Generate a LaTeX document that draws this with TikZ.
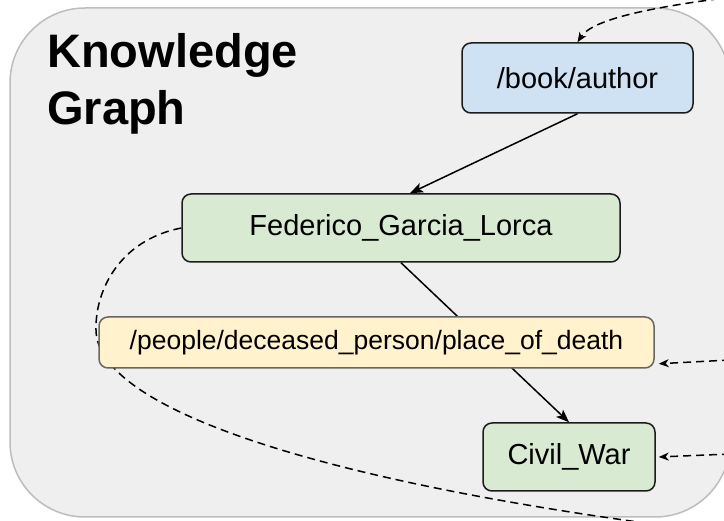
\documentclass[tikz,border=0pt]{standalone}
\usepackage{fontspec}
\setmainfont{Liberation Sans}
\usetikzlibrary{arrows.meta}
\definecolor{bgfill}{HTML}{EFEFEF}
\definecolor{bgline}{HTML}{BDBDBD}
\definecolor{bluefill}{HTML}{CFE2F3}
\definecolor{greenfill}{HTML}{D9EAD3}
\definecolor{yellowfill}{HTML}{FFF2CC}
\definecolor{darkline}{HTML}{1C1C1C}
\definecolor{grayline}{HTML}{666666}
\tikzset{
  box/.style={draw=darkline, line width=1.5pt, rounded corners=9pt, inner sep=0pt,
              font=\fontsize{29}{34}\selectfont, text=black},
  solidarrow/.style={line width=1.5pt, draw=black, -{Stealth[length=13pt,width=10pt,inset=3pt]}},
  dasharrow/.style={line width=1.5pt, draw=black, dash pattern=on 8pt off 5pt,
                    -{Stealth[length=10pt,width=8pt,inset=3pt]}},
  dashline/.style={line width=1.5pt, draw=black, dash pattern=on 8pt off 5pt}
}
\begin{document}
\begin{tikzpicture}[x=1pt,y=-1pt]
\useasboundingbox (0,0) rectangle (724,521);
% background panel
\fill[bgfill, draw=bgline, line width=1.5pt, rounded corners=75pt] (10,8) rectangle (730,517);
\node[anchor=north west, inner sep=0pt, align=left, font=\bfseries\fontsize{47}{57}\selectfont]
  (title) at (47,33) {Knowledge\\Graph};
% nodes
\node[box, fill=bluefill, minimum width=231pt, minimum height=70pt] (author) at (577.5,78) {/book/author};
\node[box, fill=greenfill, minimum width=438pt, minimum height=68pt] (fed) at (401,228) {Federico\_Garcia\_Lorca};
\node[box, fill=greenfill, minimum width=172pt, minimum height=68pt] (civil) at (569,457) {Civil\_War};
% edges behind the relation node
\draw[solidarrow] (author.south) -- ([xshift=9pt]fed.north);
\draw[solidarrow] (fed.south) -- (civil.north);
\coordinate (loopmid) at (96,330);
\coordinate (loopend) at (675,527);
\draw[dashline] (fed.west) .. controls (120,240) and (95,290) .. (loopmid)
  .. controls (97,405) and (300,478) .. (loopend);
% relation node
\node[box, draw=grayline, fill=yellowfill, minimum width=555pt, minimum height=51pt,
      font=\fontsize{26.5}{31}\selectfont] (place) at (376.5,342.5) {/people/deceased\_person/place\_of\_death};
% incoming dashed arrows from the right
\coordinate (intop) at (732,-3);
\coordinate (inplace) at (730,360);
\coordinate (incivil) at (730,454);
\draw[dasharrow] (intop) .. controls (645,8) and (592,20) .. (author.north);
\draw[dasharrow] (inplace) -- ([xshift=4pt,yshift=5pt]place.south east);
\draw[dasharrow] (incivil) -- ([xshift=3pt]civil.east);
\end{tikzpicture}
\end{document}
